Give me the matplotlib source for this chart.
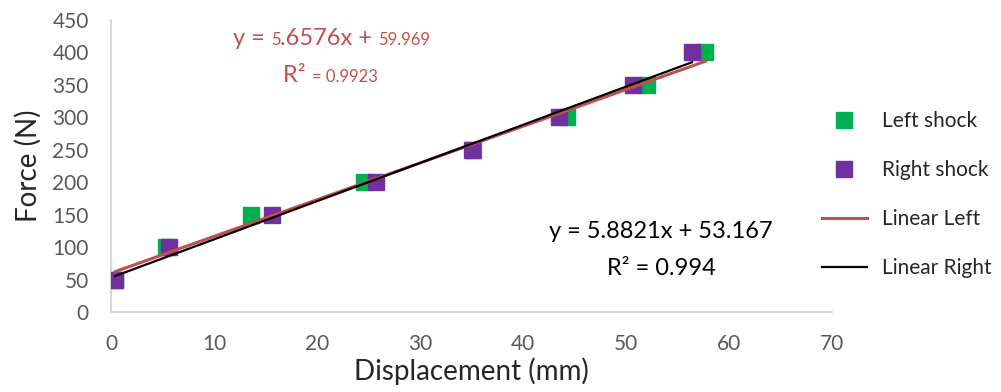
import matplotlib.pyplot as plt
import numpy as np

# data
force = [50, 100, 150, 200, 250, 300, 350, 400]
disp_left = [0.4, 5.3, 13.6, 24.6, 35.1, 44.3, 52.0, 57.7]
disp_right = [0.4, 5.6, 15.6, 25.7, 35.0, 43.5, 50.7, 56.4]
fit_left = (5.6576, 59.969)
fit_right = (5.8821, 53.167)

plt.rcParams['font.family'] = ['Lato', 'DejaVu Sans']

fig = plt.figure(figsize=(10.01, 3.92), dpi=100)
W, H = fig.bbox.width, fig.bbox.height
ax = fig.add_axes([0.1109, 0.204, 0.7203, 0.745])

ax.plot(disp_left, force, 's', color='#00b050', ms=11.5, label='Left shock', zorder=2)
ax.plot(disp_right, force, 's', color='#7030a0', ms=11.5, label='Right shock', zorder=3)

xl = np.array([min(disp_left), max(disp_left)])
xr = np.array([min(disp_right), max(disp_right)])
ax.plot(xl, fit_left[0] * xl + fit_left[1], color='#c0504d', lw=2.2, label='Linear Left', zorder=4)
ax.plot(xr, fit_right[0] * xr + fit_right[1], color='black', lw=1.6, label='Linear Right', zorder=5)

ax.set_xlim(0, 70)
ax.set_ylim(0, 450)
ax.set_xticks(range(0, 71, 10))
ax.set_yticks(range(0, 451, 50))
ax.tick_params(length=0, labelsize=15, colors='#595959', pad=16)
for s in ['top', 'right']:
    ax.spines[s].set_visible(False)
for s in ['left', 'bottom']:
    ax.spines[s].set_color('#d0d0d0')
    ax.spines[s].set_linewidth(1.2)

ax.set_xlabel('Displacement (mm)', fontsize=20, color='#262626', labelpad=2)
ax.set_ylabel('Force (N)', fontsize=20, color='#262626', labelpad=8)

leg = fig.legend(loc='upper left', bbox_to_anchor=(0.802, 0.765), frameon=False,
                 labelspacing=1.4, handlelength=2.2, handletextpad=0.7,
                 borderpad=0.4, prop={'size': 15})
for t in leg.get_texts():
    t.set_color('#262626')


def place(x, y, txt, size, color, ha='left'):
    # pixel position, y measured from the top edge, baseline aligned
    return fig.text(x / W, (H - y) / H, txt, fontsize=size, color=color,
                    ha=ha, va='baseline')


# black trendline label
place(661, 238, 'y = 5.8821x + 53.167', 17, 'black', ha='center')
place(661, 275, 'R² = 0.994', 17, 'black', ha='center')

# red trendline label with mixed sizes
fig.canvas.draw()
renderer = fig.canvas.get_renderer()


def chain(x0, base_y, parts, color):
    x = x0
    for txt, size in parts:
        t = place(x, base_y, txt, size, color)
        x += t.get_window_extent(renderer).width


chain(233, 45, [('y = ', 17), ('5', 12), ('.6576x + ', 17), ('59.969', 12)], '#c0504d')
chain(283, 82, [('R² ', 17), ('= 0.9923', 12)], '#c0504d')

fig.savefig('out.png', dpi=100)
